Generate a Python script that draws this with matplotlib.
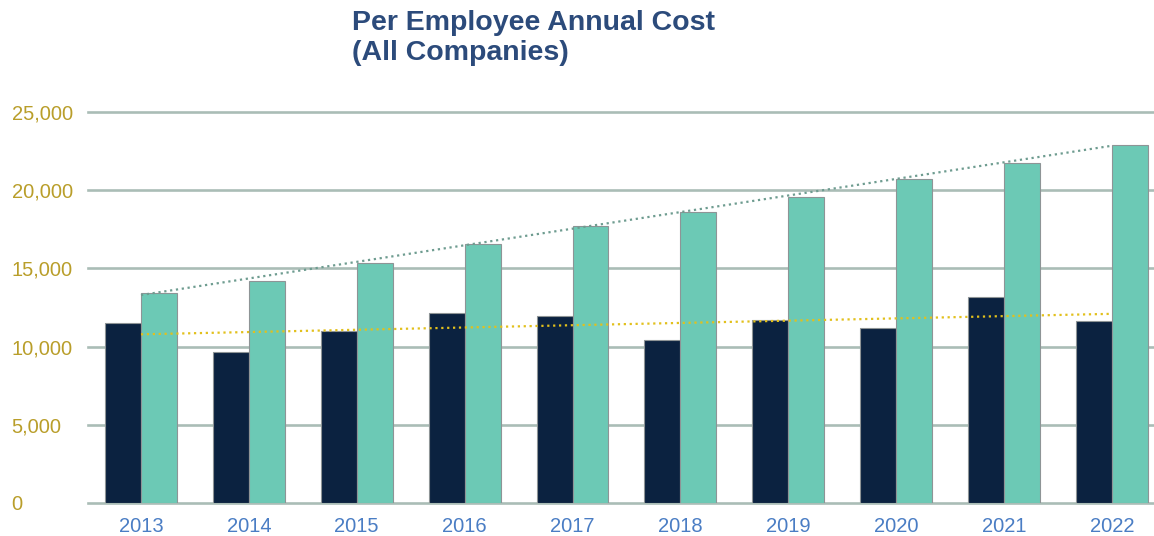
import numpy as np
import matplotlib.pyplot as plt

years = ['2013', '2014', '2015', '2016', '2017', '2018', '2019', '2020', '2021', '2022']
dark_vals = [11500, 9650, 11000, 12150, 11950, 10450, 11700, 11200, 13150, 11650]
teal_vals = [13400, 14200, 15350, 16550, 17700, 18600, 19550, 20700, 21750, 22900]
y_ticks = [0, 5000, 10000, 15000, 20000, 25000]
y_labels = ['0', '5,000', '10,000', '15,000', '20,000', '25,000']

plt.rcParams['font.family'] = ['Liberation Sans', 'DejaVu Sans']

fig = plt.figure(figsize=(11.54, 5.36), dpi=100)
ax = fig.add_axes([88/1154, 1-503/536, 1-88/1154, (503-112)/536])

x = np.arange(len(years))
w = 0.333
ax.bar(x - w/2, dark_vals, w, color='#0B2240', edgecolor='#8E9496', linewidth=0.8, zorder=2)
ax.bar(x + w/2, teal_vals, w, color='#6CC9B5', edgecolor='#8E9496', linewidth=0.8, zorder=2)

# linear trend lines
p1 = np.polyfit(x, dark_vals, 1)
p2 = np.polyfit(x, teal_vals, 1)
ax.plot(x, np.polyval(p2, x), ls=':', color='#6E9C90', lw=1.6, zorder=3)
ax.plot(x, np.polyval(p1, x), ls=':', color='#E2C01C', lw=1.6, zorder=3)

ax.set_xlim(-0.491, 9.39)
ax.set_ylim(0, 25000)
ax.set_xticks(x)
ax.set_xticklabels(years, fontsize=14.5, color='#4A7DC4')
ax.set_yticks(y_ticks)
ax.set_yticklabels(y_labels, fontsize=14.5, color='#B99E2A', ha='left')
ax.tick_params(axis='y', length=0, pad=55)
ax.tick_params(axis='x', length=0, pad=10)

ax.set_axisbelow(True)
ax.yaxis.grid(True, color='#AABDB6', lw=1.9)
for gl in ax.get_ygridlines():
    gl.set_clip_on(False)
for s in ax.spines.values():
    s.set_visible(False)

fig.text(352/1154, 0.981, 'Per Employee Annual Cost\n(All Companies)', fontsize=20.5,
         fontweight='bold', color='#2C4B7B', ha='left', va='top', linespacing=1.2)

fig.savefig('out.png', dpi=100)
